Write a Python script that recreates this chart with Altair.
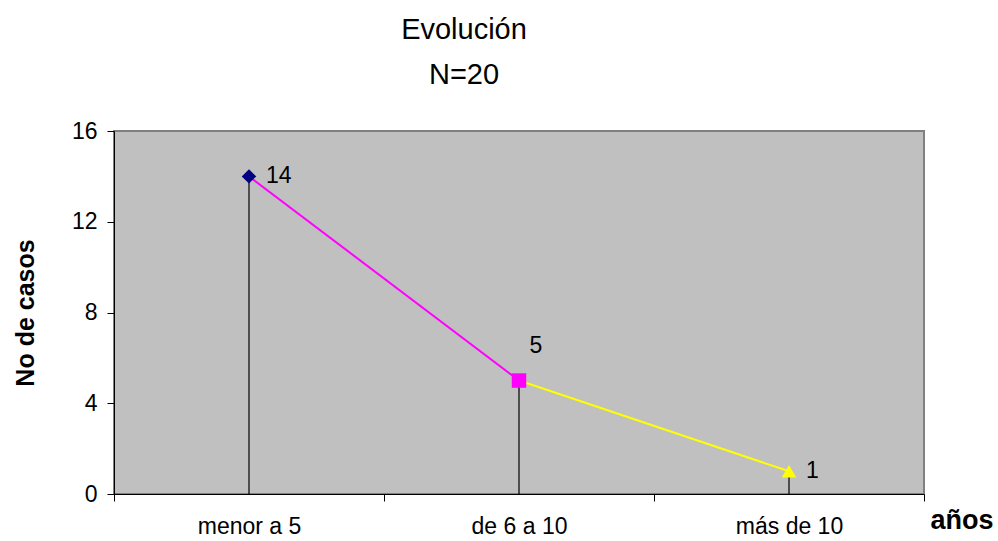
import altair as alt
import pandas as pd

categories = ["menor a 5", "de 6 a 10", "más de 10"]
values = [14, 5, 1]
marker_colors = ["#000080", "#FF00FF", "#FFFF00"]
marker_shapes = ["diamond", "square", "triangle-up"]
segment_colors = ["#FF00FF", "#FFFF00"]

pts = pd.DataFrame({
    "cat": categories,
    "pos": [i + 0.5 for i in range(len(categories))],
    "val": values,
    "color": marker_colors,
    "shape": marker_shapes,
})

seg_rows = []
for i, c in enumerate(segment_colors):
    for j in (i, i + 1):
        seg_rows.append({"seg": i, "pos": j + 0.5, "val": values[j], "color": c})
segs = pd.DataFrame(seg_rows)

W, H = 810, 363
FONT = "Liberation Sans"

label_expr = " : ".join(
    [f"datum.value == {i} ? '{c}'" for i, c in enumerate(categories)]
) + " : ''"

xscale = alt.Scale(domain=[0, len(categories)], nice=False, zero=False)
yscale = alt.Scale(domain=[0, 16], nice=False)

x_axis = alt.Axis(
    values=list(range(len(categories) + 1)),
    labelExpr=label_expr,
    labelOffset=W / len(categories) / 2,
    labelOverlap=False,
    labelBound=False,
    labelFlush=False,
    grid=False,
    tickSize=7,
    tickColor="black",
    domainColor="black",
    labelPadding=14,
    labelFontSize=23,
    labelFont=FONT,
    labelColor="black",
    title="años",
    titleFont=FONT,
    titleFontSize=27,
    titleFontWeight="bold",
    titleAlign="left",
    titleBaseline="middle",
    titleX=W + 6,
    titleY=26,
    titleColor="black",
)
y_axis = alt.Axis(
    values=[0, 4, 8, 12, 16],
    grid=False,
    tickSize=7,
    tickColor="black",
    domainColor="black",
    labelPadding=10,
    labelFontSize=23,
    labelFont=FONT,
    labelColor="black",
    title="No de casos",
    titleFont=FONT,
    titleFontSize=25,
    titleFontWeight="bold",
    titlePadding=33,
    titleColor="black",
)

base_x = alt.X("pos:Q", scale=xscale, axis=x_axis)
base_y = alt.Y("val:Q", scale=yscale, axis=y_axis)

drops = alt.Chart(pts).mark_rule(color="black", strokeWidth=1.2).encode(
    x=base_x, y=base_y, y2=alt.datum(0)
)

lines = alt.Chart(segs).mark_line(strokeWidth=2).encode(
    x=alt.X("pos:Q", scale=xscale),
    y=alt.Y("val:Q", scale=yscale),
    detail="seg:N",
    color=alt.Color("color:N", scale=None),
)

points = alt.Chart(pts).mark_point(filled=True, size=210, opacity=1).encode(
    x=alt.X("pos:Q", scale=xscale),
    y=alt.Y("val:Q", scale=yscale),
    color=alt.Color("color:N", scale=None),
    shape=alt.Shape("shape:N", scale=None),
)

def lab(idx, **kw):
    return alt.Chart(pts).transform_filter(
        alt.datum.cat == categories[idx]
    ).mark_text(font=FONT, fontSize=23, color="black", baseline="middle", **kw).encode(
        x=alt.X("pos:Q", scale=xscale),
        y=alt.Y("val:Q", scale=yscale),
        text="val:Q",
    )

labels = lab(0, align="left", dx=17) + lab(1, align="center", dx=17, dy=-35) + lab(2, align="left", dx=17)

chart = alt.layer(drops, lines, points, labels).properties(
    width=W,
    height=H,
    autosize=alt.AutoSizeParams(type="none"),
    padding={"left": 114, "top": 131, "right": 74, "bottom": 47},
    background="white",
    title=alt.TitleParams(
        text="Evolución",
        subtitle="N=20",
        font=FONT,
        fontSize=29,
        fontWeight="normal",
        color="black",
        subtitleFont=FONT,
        subtitleFontSize=29,
        subtitleColor="black",
        subtitlePadding=16,
        anchor="middle",
        dx=-55,
        offset=30,
    ),
).configure_view(
    fill="#C0C0C0",
    stroke="#808080",
    strokeWidth=2,
)

chart.save("out.html", embed_options={"renderer": "svg", "actions": False})
